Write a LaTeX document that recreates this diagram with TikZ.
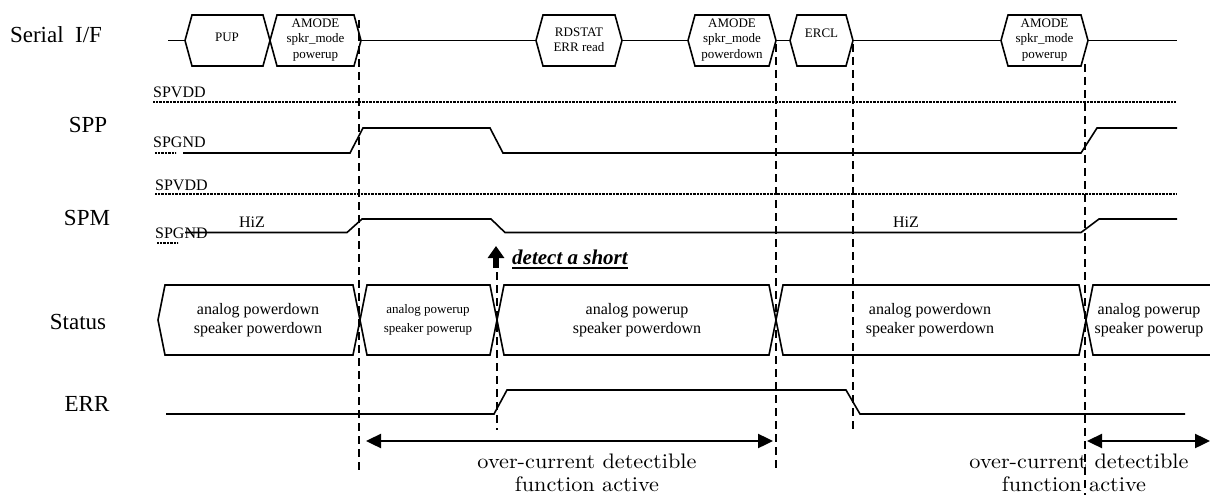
\documentclass[tikz,border=0pt]{standalone}
\usepackage{fontspec}
\newfontfamily\tnr{Liberation Serif}
\newfontfamily\lmw{lmroman10-regular}[Extension=.otf, FakeStretch=1.06]
\usetikzlibrary{arrows.meta}
\tikzset{
  sig/.style={line width=1.6pt, line join=miter},
  dotl/.style={line width=1.3pt, dash pattern=on 0.7pt off 0.7pt},
  vdash/.style={line width=1.6pt, dash pattern=on 8pt off 5pt},
  lbl/.style={font=\tnr\fontsize{23}{27}\selectfont, inner sep=0pt},
  small/.style={font=\tnr\fontsize{16}{18}\selectfont, inner sep=0pt, anchor=base west},
  boxtxt/.style={font=\tnr\fontsize{13}{15.5}\selectfont, align=center, inner sep=0pt},
  stat/.style={font=\tnr\fontsize{16}{19}\selectfont, align=center, inner sep=0pt},
  statsm/.style={font=\tnr\fontsize{13}{19}\selectfont, align=center, inner sep=0pt},
  bot/.style={font=\lmw\fontsize{21}{21}\selectfont, inner sep=0pt, anchor=base},
  dbl/.style={line width=2.4pt, {Triangle[length=15pt,width=14pt]}-{Triangle[length=15pt,width=14pt]}},
}
% hexagon: x1, x2, ytop, ybot, slant
\newcommand\hexbox[5]{%
  \draw[sig] (#1,{(#3+#4)/2}) -- (#1+#5,#3) -- (#2-#5,#3) -- (#2,{(#3+#4)/2}) -- (#2-#5,#4) -- (#1+#5,#4) -- cycle;}
\begin{document}
\begin{tikzpicture}[x=1pt,y=-1pt]
\useasboundingbox (0,0) rectangle (1210,495);

% left labels
\node[lbl] (serial) at (56,35) {Serial\ \ I/F};
\node[lbl] (spp) at (88,125) {SPP};
\node[lbl] (spm) at (87,218) {SPM};
\node[lbl] (status) at (78,322) {Status};
\node[lbl] (err) at (87,404) {ERR};

% ---------------- Serial I/F ----------------
\draw[sig] (168,40.5) -- (185,40.5);
\hexbox{185}{270}{15}{66}{7}
\hexbox{270}{361}{15}{66}{7}
\draw[sig] (361,40.5) -- (536,40.5);
\hexbox{536}{622}{15}{66}{7}
\draw[sig] (622,40.5) -- (688,40.5);
\hexbox{688}{776}{15}{66}{7}
\draw[sig] (776,40.5) -- (790,40.5);
\hexbox{790}{853}{15}{66}{7}
\draw[sig] (853,40.5) -- (1001,40.5);
\hexbox{1001}{1088}{15}{66}{7}
\draw[sig] (1088,40.5) -- (1177,40.5);

\node[boxtxt] (pup) at (227,37) {PUP};
\node[boxtxt] (am1) at (315.5,40) {AMODE\\spkr\_mode\\powerup};
\node[boxtxt] (rd) at (579,40) {RDSTAT\\ERR read};
\node[boxtxt] (am2) at (732,40) {AMODE\\spkr\_mode\\powerdown};
\node[boxtxt] (ercl) at (821.5,33) {ERCL};
\node[boxtxt] (am3) at (1044.5,40) {AMODE\\spkr\_mode\\powerup};

% ---------------- SPP ----------------
\node[small] (vdd1) at (153,97) {SPVDD};
\draw[dotl] (153,102) -- (1176,102);
\node[small] (gnd1) at (153,147) {SPGND};
\draw[dotl] (155,153) -- (176,153);
\draw[sig] (183,153) -- (350,153) -- (363,128) -- (490,128) -- (503,153) -- (1081,153) -- (1097,128) -- (1177,128);

% ---------------- SPM ----------------
\node[small] (vdd2) at (155,190) {SPVDD};
\draw[dotl] (155,194) -- (1176,194);
\node[small] (gnd2) at (155,238) {SPGND};
\draw[dotl] (157,243) -- (178,243);
\draw[sig] (185,232.5) -- (347,232.5) -- (362,219) -- (491,219) -- (505,232.5) -- (1081,232.5) -- (1099,219) -- (1177,219);
\node[font=\tnr\fontsize{16}{18}\selectfont, inner sep=0pt] (hiz1) at (252,222) {HiZ};
\node[font=\tnr\fontsize{16}{18}\selectfont, inner sep=0pt] (hiz2) at (906,222) {HiZ};

% detect a short
\coordinate (arrb) at (496,268);
\coordinate (arrt) at (496,246);
\draw[line width=5.5pt, -{Triangle[length=12pt,width=16pt]}] (arrb) -- (arrt);
\node[font=\tnr\bfseries\itshape\fontsize{21}{23}\selectfont, inner sep=0pt, anchor=base west] (short) at (512,264) {detect a short};
\draw[line width=1.8pt] ([yshift=-4pt]short.base west) -- ([yshift=-4pt]short.base east);

% ---------------- Status ----------------
\draw[sig] (158,320) -- (165,285) -- (353,285) -- (360,320) -- (353,355) -- (165,355) -- cycle;
\hexbox{360}{497}{285}{355}{7}
\hexbox{497}{776}{285}{355}{7}
\hexbox{776}{1086}{285}{355}{7}
\draw[sig] (1212,285) -- (1093,285) -- (1086,320) -- (1093,355) -- (1212,355);

\node[stat] (st1) at (258,320) {analog powerdown\\speaker powerdown};
\node[statsm] (st2) at (428,320) {analog powerup\\speaker powerup};
\node[stat] (st3) at (637,320) {analog powerup\\speaker powerdown};
\node[stat] (st4) at (930,320) {analog powerdown\\speaker powerdown};
\node[stat] (st5) at (1149,320) {analog powerup\\speaker powerup};

% ---------------- ERR ----------------
\draw[sig] (166,414) -- (494,414) -- (507,390) -- (846,390) -- (860,414) -- (1185,414);

% ---------------- vertical dashed lines ----------------
\draw[vdash] (359,20) -- (359,470);
\draw[vdash] (497,272) -- (497,430);
\draw[vdash] (776,44) -- (776,470);
\draw[vdash] (853,44) -- (853,432);
\draw[vdash] (1085,64) -- (1085,495);

% ---------------- active arrows ----------------
\coordinate (a1l) at (366,441);
\coordinate (a1r) at (773,441);
\coordinate (a2l) at (1087,441);
\coordinate (a2r) at (1210,441);
\draw[dbl] (a1l) -- (a1r);
\draw[dbl] (a2l) -- (a2r);
\node[bot] (act1a) at (587,468) {over-current detectible};
\node[bot] (act1b) at (587,491) {function active};
\node[bot] (act2a) at (1079,468) {over-current detectible};
\node[bot] (act2b) at (1074,491) {function active};
\end{tikzpicture}
\end{document}
